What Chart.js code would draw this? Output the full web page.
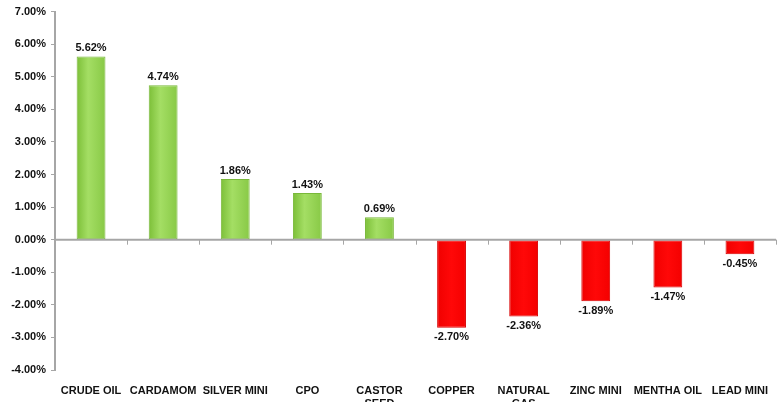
<!DOCTYPE html>
<html lang="en">
<head>
    <meta charset="UTF-8">
    <title>Commodity returns</title>
    <script src="https://cdn.jsdelivr.net/npm/chart.js"></script>
    <style>
        html, body { margin: 0; padding: 0; background: #fff; }
        #wrap { width: 781px; height: 402px; }
    </style>
</head>
<body>
<div id="wrap"><canvas id="grafico"></canvas></div>
<script>
const categorias = ['CRUDE OIL', 'CARDAMOM', 'SILVER MINI', 'CPO', ['CASTOR', 'SEED'],
    'COPPER', ['NATURAL', 'GAS'], 'ZINC MINI', 'MENTHA OIL', 'LEAD MINI'];
const valores = [5.62, 4.74, 1.86, 1.43, 0.69, -2.70, -2.36, -1.89, -1.47, -0.45];
const yMin = -4;
const yMax = 7;
const yPasso = 1;

const fonte = 'Arial, "Liberation Sans", sans-serif';

function corBarra(ctx) {
    const chart = ctx.chart;
    const v = ctx.raw;
    const sx = chart.scales && chart.scales.x;
    if (!chart.chartArea || !sx) return v >= 0 ? '#92d050' : '#ff0000';
    const cx = sx.getPixelForValue(ctx.dataIndex);
    const w = (chart.chartArea.width / categorias.length) * 0.4;
    const g = chart.ctx.createLinearGradient(cx - w / 2, 0, cx + w / 2, 0);
    if (v >= 0) {
        g.addColorStop(0, '#7cbf38');
        g.addColorStop(0.4, '#a4de64');
        g.addColorStop(1, '#88c946');
    } else {
        g.addColorStop(0, '#f00000');
        g.addColorStop(0.5, '#ff0808');
        g.addColorStop(1, '#f40000');
    }
    return g;
}

// linha do zero com marcas entre categorias + rótulos dos valores
const extras = {
    id: 'extras',
    afterDatasetsDraw(chart) {
        const { ctx, chartArea, scales } = chart;
        const y0 = scales.y.getPixelForValue(0);
        ctx.save();
        ctx.strokeStyle = '#a6a6a6';
        ctx.lineWidth = 2;
        ctx.beginPath();
        ctx.moveTo(chartArea.left, y0);
        ctx.lineTo(chartArea.right, y0);
        ctx.stroke();
        ctx.lineWidth = 1;
        const n = categorias.length;
        for (let i = 1; i <= n; i++) {
            const x = Math.round(scales.x.getPixelForValue(i - 0.5)) + 0.5;
            ctx.beginPath();
            ctx.moveTo(x, y0);
            ctx.lineTo(x, y0 + 5);
            ctx.stroke();
        }

        ctx.fillStyle = '#111';
        ctx.font = 'bold 11px ' + fonte;
        ctx.textAlign = 'center';
        const meta = chart.getDatasetMeta(0);
        meta.data.forEach((bar, i) => {
            const v = valores[i];
            const txt = v.toFixed(2) + '%';
            if (v >= 0) {
                ctx.textBaseline = 'bottom';
                ctx.fillText(txt, bar.x, bar.y - 3);
            } else {
                ctx.textBaseline = 'top';
                ctx.fillText(txt, bar.x, bar.y + 4);
            }
        });
        ctx.restore();
    }
};

new Chart(document.getElementById('grafico'), {
    type: 'bar',
    data: {
        labels: categorias,
        datasets: [{
            data: valores,
            backgroundColor: corBarra,
            borderColor: valores.map(v => v >= 0 ? '#79b83a' : '#d80000'),
            borderWidth: 1,
            borderSkipped: false,
            categoryPercentage: 1,
            barPercentage: 0.4
        }]
    },
    options: {
        responsive: true,
        maintainAspectRatio: false,
        animation: false,
        layout: { padding: { top: 11, right: 5, left: 0, bottom: 0 } },
        plugins: {
            legend: { display: false },
            tooltip: { enabled: false }
        },
        scales: {
            x: {
                grid: { display: false },
                border: { display: false },
                ticks: {
                    color: '#111',
                    font: { family: fonte, size: 11, weight: 'bold' },
                    padding: 6,
                    maxRotation: 0,
                    autoSkip: false
                },
                afterFit(scale) { scale.height = 32; }
            },
            y: {
                min: yMin,
                max: yMax,
                ticks: {
                    stepSize: yPasso,
                    color: '#111',
                    padding: 5,
                    font: { family: fonte, size: 11, weight: 'bold' },
                    callback: v => v.toFixed(2) + '%'
                },
                grid: {
                    drawOnChartArea: false,
                    drawTicks: true,
                    tickLength: 4,
                    color: '#a6a6a6'
                },
                border: { display: true, color: '#a6a6a6', width: 2 },
                afterFit(scale) { scale.width = 55; }
            }
        }
    },
    plugins: [extras]
});
</script>
</body>
</html>
